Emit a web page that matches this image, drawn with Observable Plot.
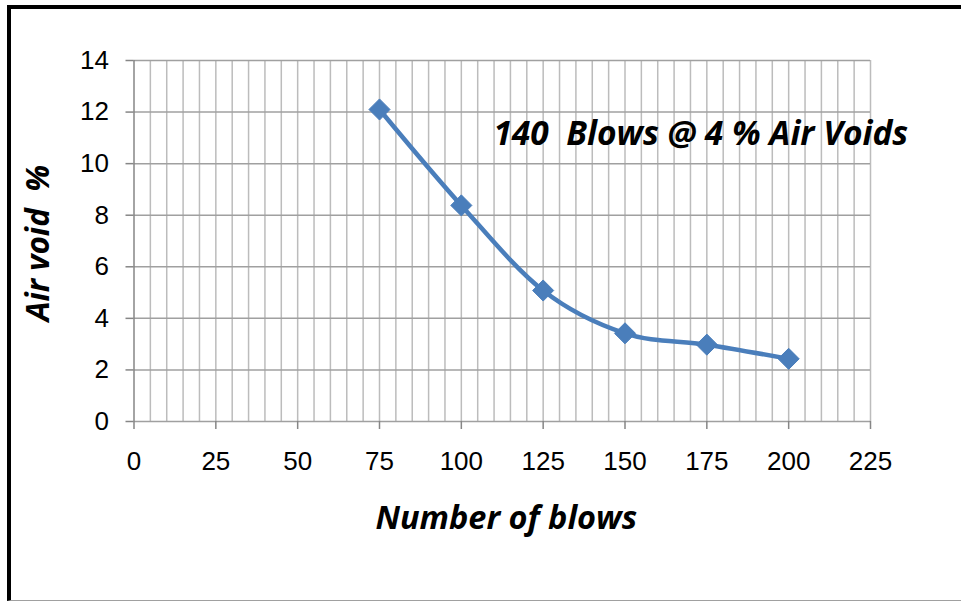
<!DOCTYPE html>
<html>
<head>
<meta charset="utf-8">
<script src="https://cdn.jsdelivr.net/npm/d3@7"></script>
<script src="https://cdn.jsdelivr.net/npm/@observablehq/plot@0.6"></script>
<style>
  html, body { margin: 0; padding: 0; background: #fff; }
  #frame { position: absolute; left: 7px; top: 5px; width: 960px; height: 591px;
           border-left: 4px solid #000; border-top: 4px solid #000; border-bottom: 1px solid #a0a0a0; }
  #chart { position: absolute; left: 0; top: 0; }
  svg text { white-space: pre; }
</style>
</head>
<body>
<div id="frame"></div>
<div id="chart"></div>
<script>
const blows = [75, 100, 125, 150, 175, 200];
const airVoids = [12.1, 8.38, 5.08, 3.42, 2.98, 2.43];
const xTicks = [0, 25, 50, 75, 100, 125, 150, 175, 200, 225];
const yTicks = [0, 2, 4, 6, 8, 10, 12, 14];
const xGrid = [5,10,15,20,25,30,35,40,45,50,55,60,65,70,75,80,85,90,95,100,105,110,115,120,125,130,135,140,145,150,155,160,165,170,175,180,185,190,195,200,205,210,215,220,225];
const xTitle = "Number of blows";
const yTitle = "Air void  %";
const annotation = [{label: "140  Blows @ 4 % Air Voids", x: 109.8, y: 11.15}];

const data = blows.map((b, i) => ({blows: b, voids: airVoids[i]}));
const titleFont = "'Open Sans', Lato, sans-serif";

const plot = Plot.plot({
  width: 961,
  height: 601,
  marginLeft: 133.5,
  marginRight: 91,
  marginTop: 60,
  marginBottom: 180,
  style: {fontFamily: "'Liberation Sans', Arial, sans-serif", color: "#000", background: "transparent"},
  x: {domain: [0, 225]},
  y: {domain: [0, 14]},
  marks: [
    Plot.ruleX(xGrid, {stroke: "#bcbcbc", strokeWidth: 1.5}),
    Plot.ruleY(yTicks, {stroke: "#a0a0a0", strokeWidth: 1.5}),
    Plot.ruleX([0], {stroke: "#868686", strokeWidth: 1.5}),
    Plot.axisY({ticks: yTicks, tickSize: 8, tickPadding: 17, fontSize: 26, stroke: "#868686", strokeWidth: 1.5, fill: "#000", label: null}),
    Plot.axisX({ticks: xTicks, tickSize: 8, tickPadding: 22, fontSize: 26, stroke: "#868686", strokeWidth: 1.5, fill: "#000", label: null}),
    Plot.line(data, {x: "blows", y: "voids", curve: "cardinal", stroke: "#4A7EBB", strokeWidth: 4.5}),
    Plot.dot(data, {x: "blows", y: "voids", symbol: "diamond2", r: 9.5, fill: "#4A7EBB", stroke: "#4A7EBB", strokeWidth: 1}),
    Plot.text(annotation, {x: "x", y: "y", text: "label", textAnchor: "start", fontSize: 33.5, fontWeight: "bold", fontStyle: "italic", fontFamily: titleFont, fill: "#000"}),
    Plot.text([xTitle], {frameAnchor: "bottom", dy: 97, dx: 4, text: d => d, fontSize: 32.5, fontWeight: "bold", fontStyle: "italic", fontFamily: titleFont, fill: "#000", lineAnchor: "middle"}),
    Plot.text([yTitle], {frameAnchor: "left", dx: -95, dy: 2, rotate: -90, textAnchor: "middle", text: d => d, fontSize: 31.5, fontWeight: "bold", fontStyle: "italic", fontFamily: titleFont, fill: "#000", lineAnchor: "middle"})
  ]
});
document.getElementById("chart").appendChild(plot);
</script>
</body>
</html>
